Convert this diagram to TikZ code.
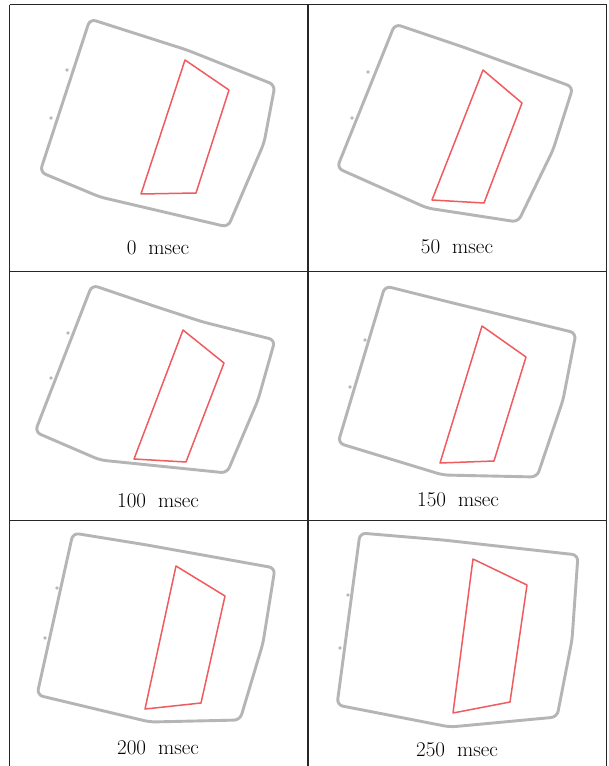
\documentclass[tikz,border=0pt]{standalone}
\begin{document}
\begin{tikzpicture}[x=1pt,y=-1pt,
  gridline/.style={line width=1.5pt,draw=black!85},
  outline/.style={line width=2.9pt,draw=gray!58,rounded corners=6pt,line join=round},
  redbox/.style={line width=1.5pt,draw={rgb,255:red,238;green,92;blue,96},line join=round},
  nub/.style={fill=gray!55,draw=none},
  caption/.style={font=\fontsize{21}{25}\selectfont,inner sep=0pt}]
\useasboundingbox (0,0) rectangle (608,766);
\fill[white] (0,0) rectangle (608,766);
% table grid
\draw[gridline] (9.5,4.5) -- (606.5,4.5);
\draw[gridline] (9.5,4.5) -- (9.5,766);
\draw[gridline] (308,4.5) -- (308,766);
\draw[gridline] (606.5,4.5) -- (606.5,766);
\draw[gridline] (9.5,271.5) -- (606.5,271.5);
\draw[gridline] (9.5,520.5) -- (606.5,520.5);
% cell 1: 0 msec
\draw[outline] (90,19) -- (187,50) -- (275,85) -- (264,143) -- (228,227) -- (100,197) -- (40,172) -- cycle;
\fill[nub] (67,70) circle (1.8);
\fill[nub] (51,118) circle (1.8);
\draw[redbox] (185,60) -- (229,90) -- (196,193) -- (141,194) -- cycle;
\node[caption] (t0) at (158,248) {0\hspace{12pt}msec};
% cell 2: 50 msec
\draw[outline] (395,24) -- (463,47) -- (573,87) -- (553,150) -- (518,222) -- (427,208) -- (337,168) -- cycle;
\fill[nub] (368,72) circle (1.8);
\fill[nub] (352,118) circle (1.8);
\draw[redbox] (483,70) -- (522,103) -- (484,203) -- (432,200) -- cycle;
\node[caption] (t50) at (457,247) {50\hspace{12pt}msec};
% cell 3: 100 msec
\draw[outline] (92,285) -- (157,307) -- (203,322) -- (275,340) -- (258,400) -- (227,473) -- (100,460) -- (35,432) -- cycle;
\fill[nub] (68,333) circle (1.8);
\fill[nub] (51,378) circle (1.8);
\draw[redbox] (183,330) -- (224,363) -- (186,462) -- (134,459) -- cycle;
\node[caption] (t100) at (158,501) {100\hspace{12pt}msec};
% cell 4: 150 msec
\draw[outline] (385,286) -- (453,303) -- (576,333) -- (563,400) -- (537,477) -- (443,475) -- (338,443) -- cycle;
\fill[nub] (365,340) circle (1.8);
\fill[nub] (350,387) circle (1.8);
\draw[redbox] (482,326) -- (526,357) -- (494,461) -- (440,463) -- cycle;
\node[caption] (t150) at (458,500) {150\hspace{12pt}msec};
% cell 5: 200 msec
\draw[outline] (73,533) -- (147,545) -- (275,568) -- (263,643) -- (240,720) -- (150,722) -- (37,695) -- cycle;
\fill[nub] (57,588) circle (1.8);
\fill[nub] (45,638) circle (1.8);
\draw[redbox] (176,566) -- (225,596) -- (201,703) -- (145,709) -- cycle;
\node[caption] (t200) at (158,748) {200\hspace{12pt}msec};
% cell 6: 250 msec
\draw[outline] (360,533) -- (443,540) -- (578,555) -- (572,640) -- (557,717) -- (450,727) -- (337,705) -- cycle;
\fill[nub] (348,595) circle (1.8);
\fill[nub] (340,648) circle (1.8);
\draw[redbox] (473,559) -- (527,585) -- (510,702) -- (453,713) -- cycle;
\node[caption] (t250) at (457,750) {250\hspace{12pt}msec};
\end{tikzpicture}
\end{document}
